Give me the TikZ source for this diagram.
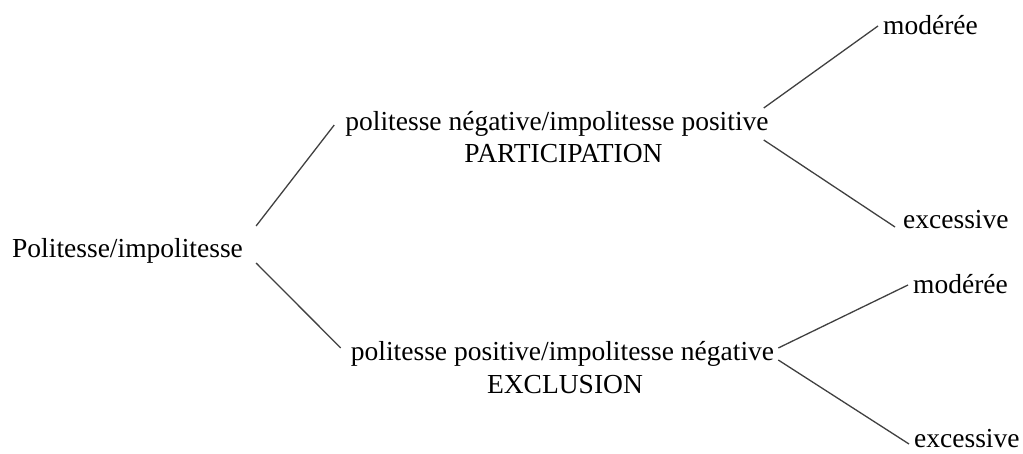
\documentclass[tikz,border=0pt]{standalone}
\usepackage{fontspec}
\setmainfont{Liberation Serif}
\usetikzlibrary{calc}

\tikzset{
  lbl/.style={inner sep=0pt, font=\fontsize{27.5}{33}\selectfont},
  branch/.style={draw=black!75, line width=1.3pt}
}

\begin{document}
\begin{tikzpicture}[x=1pt, y=-1pt]
  \useasboundingbox (0,0) rectangle (1023,454);

  % root
  \node[lbl, anchor=base west] (root) at (12,258) {Politesse/impolitesse};

  % middle level
  \node[lbl, anchor=base] (pos) at (557,131) {politesse négative/impolitesse positive};
  \node[lbl, anchor=base] (posname) at (563.5,163) {PARTICIPATION};
  \node[lbl, anchor=base] (neg) at (562.5,360) {politesse positive/impolitesse négative};
  \node[lbl, anchor=base] (negname) at (565,393) {EXCLUSION};

  % leaves
  \node[lbl, anchor=base west] (m1) at (883,35) {modérée};
  \node[lbl, anchor=base west] (e1) at (903,229) {excessive};
  \node[lbl, anchor=base west] (m2) at (913,294) {modérée};
  \node[lbl, anchor=base west] (e2) at (914,447) {excessive};

  % branches
  \draw[branch] ($(root.base east)+(13,-32)$) -- ($(pos.base west)+(-11,-6)$);
  \draw[branch] ($(root.base east)+(13,5)$) -- ($(neg.base west)+(-10,-12)$);
  \draw[branch] ($(pos.base east)+(-5,-23)$) -- ($(m1.base west)+(-5,-9)$);
  \draw[branch] ($(pos.base east)+(-5,9)$) -- ($(e1.base west)+(-8,-2)$);
  \draw[branch] ($(neg.base east)+(4,-12)$) -- ($(m2.base west)+(-5,-9)$);
  \draw[branch] ($(neg.base east)+(4,0)$) -- ($(e2.base west)+(-5,-3)$);
\end{tikzpicture}
\end{document}
